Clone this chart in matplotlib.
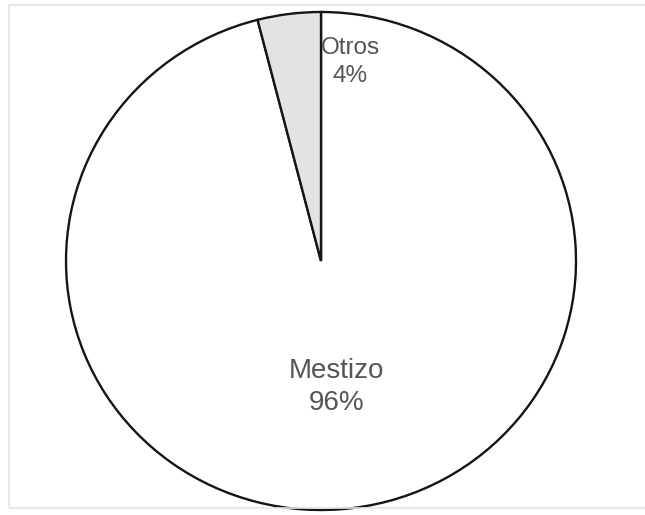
import matplotlib
matplotlib.use("Agg")
import matplotlib.pyplot as plt
from matplotlib.patches import Rectangle

categories = ["Mestizo", "Otros"]
values = [96, 4]
colors = ["#ffffff", "#e3e3e3"]

plt.rcParams['font.family'] = ['Liberation Sans', 'DejaVu Sans']

fig = plt.figure(figsize=(6.45, 5.15), dpi=100)
fig.patch.set_facecolor("white")
# light frame
fig.add_artist(Rectangle((9/645, 1-508/515), (645-9)/645 + 0.01, (508-5)/515,
                         transform=fig.transFigure, fill=False,
                         edgecolor="#e4e4e4", linewidth=1.2))

ax = fig.add_axes([0, 0, 1, 1])
ax.set_facecolor("none")
wedges, _ = ax.pie(values, colors=colors, startangle=90, counterclock=False,
                   radius=1, center=(0, 0),
                   wedgeprops=dict(edgecolor="#151515", linewidth=1.7))
ax.set_aspect('auto')
ax.set_xlim(-321/255, (645-321)/255)
ax.set_ylim(-(515-261)/249, 261/249)
ax.axis('off')

label_pos = {"Mestizo": (0.06, -0.505), "Otros": (0.115, 0.80)}
label_size = {"Mestizo": 20, "Otros": 17.5}
for cat, v in zip(categories, values):
    x, y = label_pos[cat]
    ax.text(x, y, f"{cat}\n{v}%", ha="center", va="center",
            fontsize=label_size[cat], color="#555555", linespacing=1.32)

fig.savefig("out.png", dpi=100)
